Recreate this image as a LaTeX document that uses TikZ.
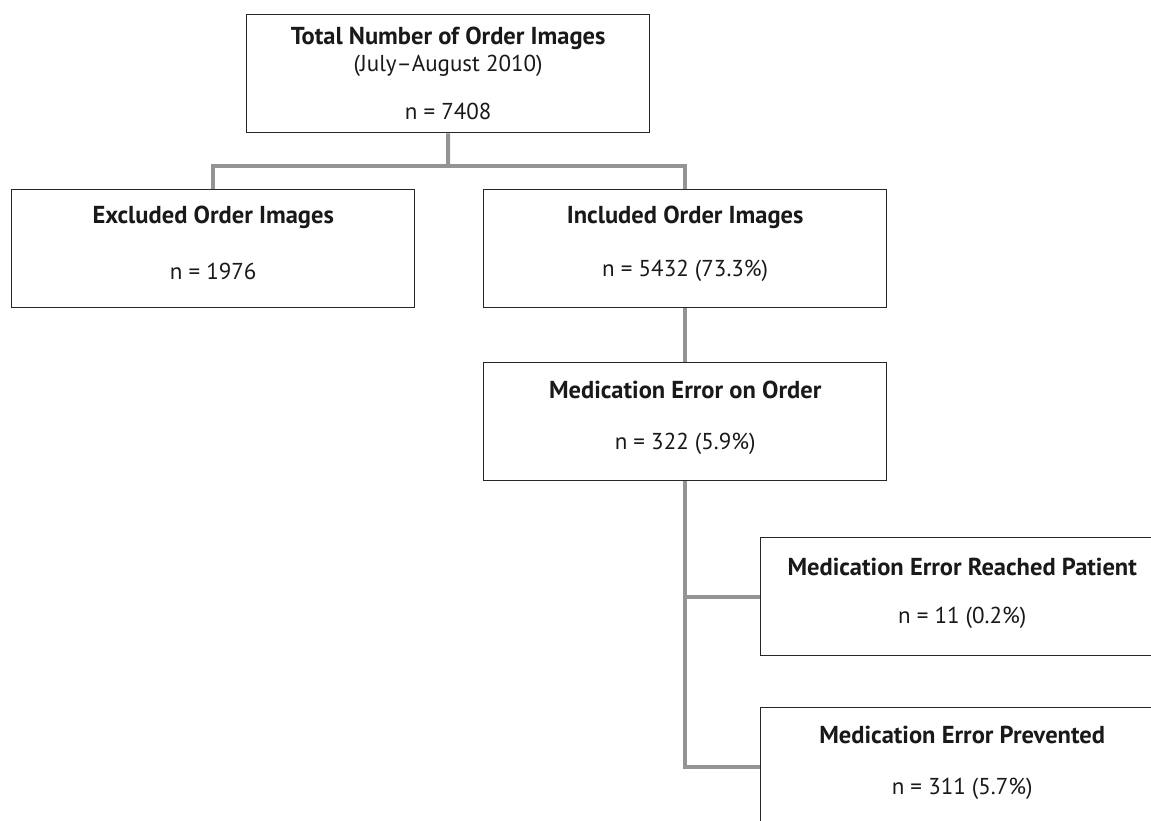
\documentclass[tikz,border=0pt]{standalone}
\usepackage{fontspec}
\setmainfont{PT Sans}
\begin{document}
\begin{tikzpicture}[x=1pt,y=-1pt,
  box/.style={draw=black!85,line width=1.4pt,fill=white,minimum width=403pt,minimum height=118pt,inner sep=0pt,anchor=north west},
  ttl/.style={font=\fontsize{24.5}{28}\selectfont\bfseries,inner sep=0pt,text=black!90},
  txt/.style={font=\fontsize{23}{26}\selectfont,inner sep=0pt,text=black!90},
  conn/.style={draw=black!42,line width=4pt}]
\useasboundingbox (0,0) rectangle (1151,820);
\clip (0,0) rectangle (1151,820);
% boxes
\node[box] (top) at (246,14) {};
\node[box] (exc) at (11,189) {};
\node[box] (inc) at (483,189) {};
\node[box] (meo) at (483,362) {};
\node[box] (rea) at (760,537) {};
\node[box] (pre) at (760,707) {};
% connectors
\coordinate (hj) at (448,166);
\draw[conn] (top.south) -- (hj);
\draw[conn] (exc.north) |- (hj) -| (inc.north);
\draw[conn] (inc.south) -- (meo.north);
\draw[conn] (meo.south) |- (pre.west);
\draw[conn] (meo.south |- rea.west) -- (rea.west);
% redraw boxes over connectors
\node[box] at (top.north west) {};
\node[box] at (exc.north west) {};
\node[box] at (inc.north west) {};
\node[box] at (meo.north west) {};
\node[box] at (rea.north west) {};
\node[box] at (pre.north west) {};
% texts
\node[ttl] (topt) at ([yshift=-24pt]top.north) {Total Number of Order Images};
\node[txt] (tops) at ([yshift=-52pt]top.north) {(July–August 2010)};
\node[txt] (topn) at ([yshift=-97pt]top.north) {n = 7408};
\node[ttl] (exct) at ([yshift=-28pt]exc.north) {Excluded Order Images};
\node[txt] (excn) at ([yshift=-82pt]exc.north) {n = 1976};
\node[ttl] (inct) at ([yshift=-28pt]inc.north) {Included Order Images};
\node[txt] (incn) at ([yshift=-82pt]inc.north) {n = 5432 (73.3\%)};
\node[ttl] (meot) at ([yshift=-28pt]meo.north) {Medication Error on Order};
\node[txt] (meon) at ([yshift=-82pt]meo.north) {n = 322 (5.9\%)};
\node[ttl] (reat) at ([yshift=-30pt]rea.north) {Medication Error Reached Patient};
\node[txt] (rean) at ([yshift=-81pt]rea.north) {n = 11 (0.2\%)};
\node[ttl] (pret) at ([yshift=-28pt]pre.north) {Medication Error Prevented};
\node[txt] (pren) at ([yshift=-82pt]pre.north) {n = 311 (5.7\%)};
\end{tikzpicture}
\end{document}
